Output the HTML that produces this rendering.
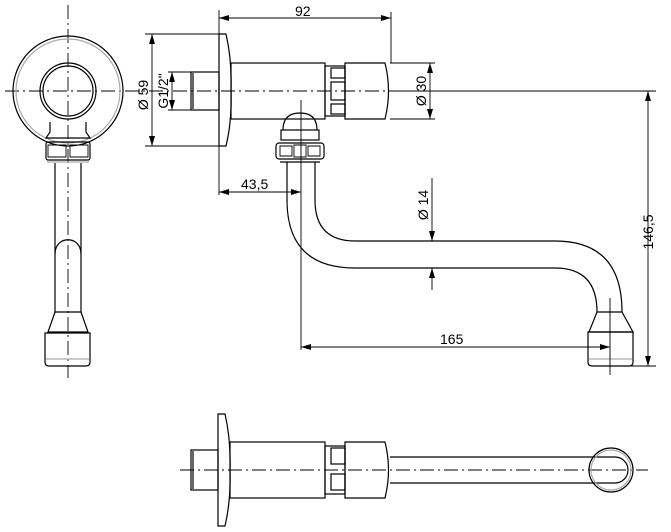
<!DOCTYPE html>
<html><head><style>body{margin:0;background:#fff}svg{display:block}text{font-family:"Liberation Sans",sans-serif;font-size:14px;fill:#000}</style></head><body>
<svg width="671" height="532" viewBox="0 0 671 532" xmlns="http://www.w3.org/2000/svg">
<defs><marker id="a" viewBox="0 0 10 6" refX="10" refY="3" markerWidth="10" markerHeight="6" orient="auto-start-reverse" markerUnits="userSpaceOnUse"><path d="M0,0L10,3L0,6z" fill="#000"/></marker></defs>
<g fill="none" stroke="#000" stroke-width="1.2">
<g stroke-dasharray="14,4,2,4" stroke-width="0.9">
<line x1="5" y1="91" x2="395" y2="91"/><line x1="68" y1="5" x2="68" y2="378"/>
<line x1="180" y1="470" x2="648" y2="470"/>
</g>
<circle cx="68" cy="91" r="55"/><circle cx="68" cy="91" r="52" stroke="#aaa"/>
<circle cx="68" cy="91" r="28"/><circle cx="68" cy="91" r="25"/>
<path d="M50,122 L50,132 L46,138 L90,138 L86,132 L86,122"/>
<rect x="46" y="142" width="44" height="18" rx="2"/>
<path d="M48,145 h18 v12 h-18 z M70,145 h18 v12 h-18z" stroke-width="0.9"/>
<line x1="47" y1="162" x2="89" y2="162" stroke="#aaa"/>
<line x1="55" y1="163" x2="55" y2="312"/><line x1="81" y1="163" x2="81" y2="312"/>
<path d="M55,254 C55,235 81,235 81,254"/>
<path d="M55,312 L81,312 L88,332 L48,332 Z"/>
<path d="M45,333 H90 V362 Q90,366 86,366 H49 Q45,366 45,362 Z"/>
<line x1="46" y1="359" x2="89" y2="359" stroke="#aaa"/>
<path d="M219,34 H226 Q232,60 231,90 Q232,122 226,146 H219 Z"/>
<rect x="191" y="72" width="28" height="38"/><line x1="193" y1="73" x2="193" y2="109"/>
<rect x="231" y="63" width="94" height="56"/>
<rect x="325" y="66" width="20" height="50"/>
<rect x="331" y="68" width="14" height="10"/><rect x="331" y="82" width="14" height="18"/><rect x="331" y="104" width="14" height="10"/>
<path d="M345,63 H385 Q392,91 385,119 H345 Z"/>
<path d="M283,130 Q283,113 300,113 Q317,113 317,130"/>
<rect x="281" y="130" width="38" height="10"/>
<rect x="276" y="143" width="48" height="16" rx="3"/>
<path d="M280,146h12v10h-12z M308,146h12v10h-12z M294,145h12v12h-12z" stroke-width="0.9"/>
<line x1="280" y1="162" x2="320" y2="162"/>
<path d="M287,162 V200 Q287,268 355,268 H555 Q597,268 597,312"/>
<path d="M315,162 V200 Q315,241 355,241 H555 Q622,241 622,312"/>
<path d="M597,312 H622 L633,332 H589 Z"/>
<path d="M588,332 H633 V362 Q633,366 629,366 H592 Q588,366 588,362 Z"/>
<line x1="589" y1="359" x2="632" y2="359" stroke="#aaa"/>
<g stroke-width="0.9">
<line x1="219" y1="10" x2="219" y2="195"/><line x1="391" y1="12" x2="391" y2="63"/>
<line x1="219" y1="18" x2="391" y2="18" marker-start="url(#a)" marker-end="url(#a)"/>
<line x1="145" y1="34" x2="219" y2="34"/><line x1="145" y1="146" x2="219" y2="146"/>
<line x1="152" y1="34" x2="152" y2="146" marker-start="url(#a)" marker-end="url(#a)"/>
<line x1="168" y1="72" x2="191" y2="72"/><line x1="168" y1="110" x2="191" y2="110"/>
<line x1="172" y1="72" x2="172" y2="110" marker-start="url(#a)" marker-end="url(#a)"/>
<line x1="390" y1="63" x2="435" y2="63"/><line x1="390" y1="119" x2="435" y2="119"/>
<line x1="430" y1="63" x2="430" y2="119" marker-start="url(#a)" marker-end="url(#a)"/>
<line x1="390" y1="91" x2="656" y2="91"/><line x1="630" y1="366" x2="656" y2="366"/>
<line x1="648" y1="91" x2="648" y2="366" marker-start="url(#a)" marker-end="url(#a)"/>
<line x1="219" y1="192" x2="301" y2="192" marker-start="url(#a)" marker-end="url(#a)"/>
<line x1="301" y1="100" x2="301" y2="350"/>
<line x1="432" y1="178" x2="432" y2="241" marker-end="url(#a)"/><line x1="432" y1="290" x2="432" y2="268" marker-end="url(#a)"/>
<line x1="301" y1="347" x2="610" y2="347" marker-start="url(#a)" marker-end="url(#a)"/>
<line x1="610" y1="298" x2="610" y2="375"/>
</g>
<path d="M218,414 H225 Q231,440 230,470 Q231,500 225,526 H218 Z"/>
<rect x="191" y="450" width="27" height="40"/><line x1="193" y1="451" x2="193" y2="489"/>
<rect x="230" y="442" width="95" height="56"/>
<rect x="325" y="446" width="20" height="48"/>
<rect x="331" y="448" width="14" height="16"/><rect x="331" y="474" width="14" height="16"/>
<path d="M345,442 H385 Q392,470 385,498 H345 Z"/>
<path d="M390,457 H615 A13,13 0 0 1 615,483 H390"/>
<circle cx="611" cy="470" r="22"/><circle cx="611" cy="470" r="20" stroke="#aaa"/>
</g>
<text x="295" y="16">92</text>
<text x="241" y="189">43,5</text>
<text x="440" y="344">165</text>
<text transform="translate(148,95) rotate(-90)" text-anchor="middle">Ø 59</text>
<text transform="translate(168,91) rotate(-90)" text-anchor="middle">G1/2"</text>
<text transform="translate(426,91) rotate(-90)" text-anchor="middle">Ø 30</text>
<text transform="translate(428,205) rotate(-90)" text-anchor="middle">Ø 14</text>
<text transform="translate(653,232) rotate(-90)" text-anchor="middle">146,5</text>
</svg>
</body></html>
